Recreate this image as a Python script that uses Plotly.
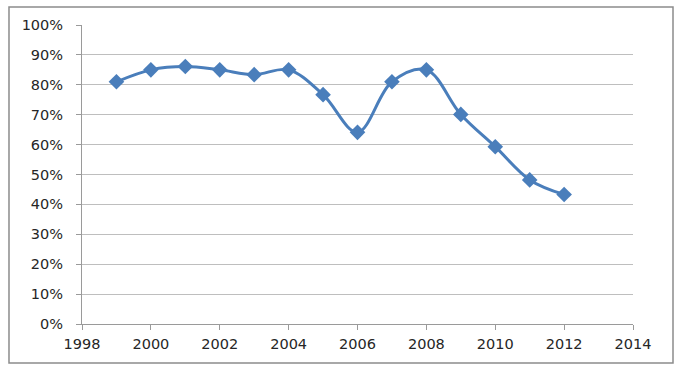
import plotly.graph_objects as go

years = [1999, 2000, 2001, 2002, 2003, 2004, 2005, 2006, 2007, 2008, 2009, 2010, 2011, 2012]
values = [0.81, 0.85, 0.861, 0.85, 0.834, 0.85, 0.767, 0.641, 0.81, 0.85, 0.701, 0.593, 0.482, 0.433]
x_ticks = [1998, 2000, 2002, 2004, 2006, 2008, 2010, 2012, 2014]
y_ticks = [i / 10 for i in range(11)]

color = "#4A7EBB"

fig = go.Figure()
fig.add_trace(go.Scatter(
    x=years, y=values, mode="lines+markers",
    line=dict(color=color, width=3, shape="spline", smoothing=1.0),
    marker=dict(symbol="diamond", size=12, color=color),
    showlegend=False,
))

fig.update_layout(
    width=680, height=370,
    margin=dict(l=82, r=47, t=25, b=46),
    paper_bgcolor="white", plot_bgcolor="white",
    font=dict(family="DejaVu Sans", size=14.5, color="#262626"),
    xaxis=dict(
        range=[1998, 2014], tickvals=x_ticks, ticktext=[str(t) for t in x_ticks],
        showgrid=False, zeroline=False,
        showline=True, linecolor="#9A9A9A", linewidth=1,
        ticks="outside", ticklen=5, tickcolor="#9A9A9A",
        ticklabelstandoff=2,
    ),
    yaxis=dict(
        range=[0, 1], tickvals=y_ticks, tickformat=".0%",
        showgrid=True, gridcolor="#BEBEBE", gridwidth=1, zeroline=False,
        showline=True, linecolor="#9A9A9A", linewidth=1,
        ticks="outside", ticklen=5, tickcolor="#9A9A9A",
        ticklabelstandoff=10,
    ),
    shapes=[dict(
        type="rect", xref="paper", yref="paper",
        x0=-0.1325, x1=1.0726, y0=-0.1304, y1=1.0602,
        line=dict(color="#8C8C8C", width=1.5), fillcolor="rgba(0,0,0,0)",
        layer="below",
    )],
)

fig.write_html("out.html")
